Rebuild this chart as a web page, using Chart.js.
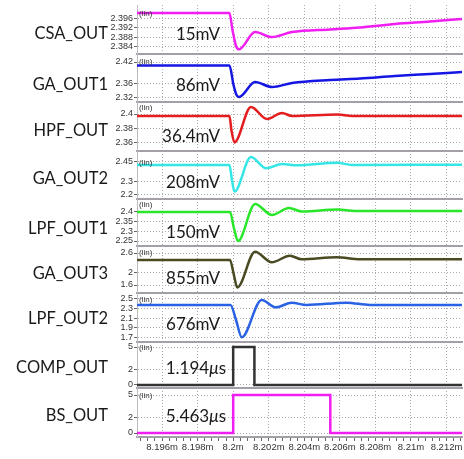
<!DOCTYPE html>
<html>
<head>
<meta charset="utf-8">
<script src="https://cdn.jsdelivr.net/npm/chart.js@4.4.1/dist/chart.umd.min.js"></script>
<style>
  html, body { margin: 0; padding: 0; background: #fff; }
  #wrap { position: relative; width: 464px; height: 459px; overflow: hidden; }
  .pane { position: absolute; left: 0; width: 464px; }
  .name, .note, .lin { position: absolute; white-space: nowrap; transform: translateY(-50%); z-index: 2; line-height: 1; }
  .name { right: 356px; font: 16.5px Lato, sans-serif; color: #1a1a1a; }
  .note { font: 17px Lato, sans-serif; color: #1a1a1a; }
  .lin { left: 139px; font: 8px "Liberation Sans", sans-serif; color: #333; }
</style>
</head>
<body>
<div id="wrap"></div>
<script>
// ── x axis (ms) ──
const xMin = 8.19459, xMax = 8.21287;
const xTicks  = [8.196, 8.198, 8.2, 8.202, 8.204, 8.206, 8.208, 8.21, 8.212];
const xLabels = ['8.196m', '8.198m', '8.2m', '8.202m', '8.204m', '8.206m', '8.208m', '8.21m', '8.212m'];

// ── signals: time (ms) / value ──
const csaT = [8.19459, 8.19979, 8.19996, 8.20016, 8.20033, 8.20123, 8.20218, 8.20331, 8.20544, 8.20713, 8.20910, 8.21107, 8.21287];
const csaV = [2.3983, 2.3983, 2.3912, 2.3844, 2.3830, 2.3903, 2.3882, 2.3903, 2.3914, 2.3922, 2.3937, 2.3947, 2.3958];

const ga1T = [8.19459, 8.19979, 8.20002, 8.20019, 8.20033, 8.20123, 8.20218, 8.20331, 8.20544, 8.20713, 8.20910, 8.21107, 8.21287];
const ga1V = [2.4103, 2.4103, 2.3561, 2.3283, 2.3230, 2.3644, 2.3505, 2.3616, 2.3700, 2.3741, 2.3811, 2.3866, 2.3922];

const hpfT = [8.19459, 8.19979, 8.19990, 8.20007, 8.20100, 8.20190, 8.20275, 8.20331, 8.20589, 8.20668, 8.21287];
const hpfV = [2.3972, 2.3972, 2.3779, 2.3608, 2.4097, 2.3931, 2.4014, 2.3972, 2.3993, 2.3972, 2.3972];

const ga2T = [8.19459, 8.19979, 8.19993, 8.20007, 8.20100, 8.20185, 8.20275, 8.20359, 8.20584, 8.20668, 8.21287];
const ga2V = [2.4266, 2.4266, 2.3096, 2.2190, 2.4890, 2.4009, 2.4344, 2.4243, 2.4438, 2.4266, 2.4290];

const lpf1T = [8.19459, 8.19982, 8.20004, 8.20027, 8.20123, 8.20218, 8.20314, 8.20387, 8.20589, 8.20685, 8.21287];
const lpf1V = [2.4000, 2.4000, 2.3173, 2.2500, 2.4414, 2.3845, 2.4207, 2.4026, 2.4129, 2.4052, 2.4052];

const ga3T = [8.19459, 8.19982, 8.20004, 8.20023, 8.20123, 8.20217, 8.20319, 8.20385, 8.20582, 8.20713, 8.21287];
const ga3V = [2.3813, 2.3813, 1.9125, 1.5250, 2.6406, 2.3094, 2.5156, 2.4031, 2.4656, 2.4031, 2.4031];

const lpf2T = [8.19459, 8.19985, 8.20016, 8.20048, 8.20160, 8.20241, 8.20329, 8.20413, 8.20638, 8.20769, 8.21287];
const lpf2V = [2.374, 2.374, 2.059, 1.698, 2.479, 2.3257, 2.4223, 2.374, 2.4223, 2.374, 2.374];

const compT = [8.19459, 8.2, 8.2, 8.201194, 8.201194, 8.21287];
const compV = [0, 0, 5, 5, 0, 0];

const bsT = [8.19459, 8.2, 8.2, 8.205463, 8.205463, 8.21287];
const bsV = [0, 0, 5, 5, 0, 0];

// ── y tick labels per panel ──
const csaTicks  = [2.396, 2.392, 2.388, 2.384];
const ga1Ticks  = [2.42, 2.36, 2.32];
const hpfTicks  = [2.4, 2.38, 2.36];
const ga2Ticks  = [2.45, 2.3, 2.2];
const lpf1Ticks = [2.4, 2.35, 2.3, 2.25];
const ga3Ticks  = [2.6, 2, 1.6];
const lpf2Ticks = [2.5, 2.3, 2.1, 1.9, 1.7];
const compTicks = [5, 2, 0];
const bsTicks   = [5, 2, 0];

// ── panel layout ──
const panels = [
  { name: 'CSA_OUT',  note: '15mV',   t: csaT,  v: csaV,  ticks: csaTicks,  color: '#f01ef0', min: 2.38105, max: 2.40168, top: 5,   bottom: 54,  nameY: 33,  noteY: 33,  noteR: 220, linY: 13 },
  { name: 'GA_OUT1',  note: '86mV',   t: ga1T,  v: ga1V,  ticks: ga1Ticks,  color: '#1616e4', min: 2.3088,  max: 2.44224, top: 54,  bottom: 102, nameY: 84,  noteY: 84,  noteR: 220, linY: 61 },
  { name: 'HPF_OUT',  note: '36.4mV', t: hpfT,  v: hpfV,  ticks: hpfTicks,  color: '#e41e1e', min: 2.34894, max: 2.41656, top: 102, bottom: 151, nameY: 130, noteY: 135, noteR: 220, linY: 107 },
  { name: 'GA_OUT2',  note: '208mV',  t: ga2T,  v: ga2V,  ticks: ga2Ticks,  color: '#36e6e6', min: 2.1614,  max: 2.5358,  top: 151, bottom: 199, nameY: 178, noteY: 181, noteR: 220, linY: 162 },
  { name: 'LPF_OUT1', note: '150mV',  t: lpf1T, v: lpf1V, ticks: lpf1Ticks, color: '#2ae62a', min: 2.2242,  max: 2.4672,  top: 199, bottom: 246, nameY: 228, noteY: 231, noteR: 220, linY: 204 },
  { name: 'GA_OUT3',  note: '855mV',  t: ga3T,  v: ga3V,  ticks: ga3Ticks,  color: '#4a4a22', min: 1.35,    max: 2.81875, top: 246, bottom: 293, nameY: 273, noteY: 277, noteR: 220, linY: 252 },
  { name: 'LPF_OUT2', note: '676mV',  t: lpf2T, v: lpf2V, ticks: lpf2Ticks, color: '#2a62e4', min: 1.597,   max: 2.626,   top: 293, bottom: 342, nameY: 318, noteY: 323, noteR: 220, linY: 299 },
  { name: 'COMP_OUT', note: '1.194<i>μ</i>s', t: compT, v: compV, ticks: compTicks, color: '#333333', min: -0.395, max: 5.658, top: 342, bottom: 388, nameY: 367, noteY: 367, noteR: 226, linY: 347, step: true },
  { name: 'BS_OUT',   note: '5.463<i>μ</i>s', t: bsT,   v: bsV,   ticks: bsTicks,   color: '#f01ef0', min: -0.526, max: 5.921, top: 388, bottom: 437, nameY: 415, noteY: 415, noteR: 226, linY: 395, step: true },
];

// minor x ticks: five per major division
const xMinor = [];
for (let k = -3; k <= 42; k++) xMinor.push(+(xTicks[0] + k * 0.0004).toFixed(5));
const majorIdx = v => xTicks.findIndex(m => Math.abs(m - v) < 1e-7);

const gridColor = '#ababab';
const tickFont = { family: "'Liberation Sans', sans-serif", size: 9 };

function xScale(showLabels, h) {
  return {
    type: 'linear', min: xMin, max: xMax,
    afterBuildTicks: s => { s.ticks = xMinor.map(value => ({ value })); },
    afterFit: s => { s.height = h; s.paddingLeft = 0; s.paddingRight = 0; },
    ticks: {
      display: showLabels, autoSkip: false, maxRotation: 0, padding: 1,
      font: { family: "'Liberation Sans', sans-serif", size: 9.5 }, color: '#333',
      callback: v => { const i = majorIdx(v); return i < 0 ? '' : xLabels[i]; }
    },
    grid: {
      drawTicks: showLabels, tickLength: 4, tickColor: '#666', lineWidth: 1,
      color: c => (c.tick && majorIdx(c.tick.value) >= 0) ? gridColor : 'rgba(0,0,0,0)'
    },
    border: { display: true, color: '#a49fa7', width: 2, dash: [1, 2] }
  };
}

const wrap = document.getElementById('wrap');

panels.forEach((p, i) => {
  const last = i === panels.length - 1;
  const h = last ? 459 - p.top : p.bottom - p.top + 1;
  const pane = document.createElement('div');
  pane.className = 'pane';
  pane.style.top = p.top + 'px';
  pane.style.height = h + 'px';
  const cv = document.createElement('canvas');
  pane.appendChild(cv);
  wrap.appendChild(pane);

  new Chart(cv, {
    type: 'line',
    data: {
      datasets: [{
        data: p.t.map((x, j) => ({ x, y: p.v[j] })),
        borderColor: p.color,
        borderWidth: 2.5,
        pointRadius: 0,
        fill: false,
        tension: p.step ? 0 : 0.4,
        cubicInterpolationMode: p.step ? 'default' : 'monotone',
      }]
    },
    options: {
      responsive: true,
      maintainAspectRatio: false,
      animation: false,
      events: [],
      layout: { padding: { left: 0, right: 2, top: 0, bottom: 0 } },
      plugins: { legend: { display: false }, tooltip: { enabled: false } },
      scales: {
        x: xScale(last, last ? 459 - p.bottom : 1),
        y: {
          min: p.min, max: p.max,
          afterBuildTicks: s => { s.ticks = p.ticks.map(value => ({ value })); },
          afterFit: s => { s.width = 137; s.paddingTop = 0; s.paddingBottom = 0; },
          ticks: { font: tickFont, color: '#333', padding: 1, autoSkip: false, callback: v => String(v) },
          grid: { color: gridColor, lineWidth: 1, tickLength: 3, tickColor: '#666' },
          border: { display: true, color: '#bdbdbd', width: 1, dash: [1, 2] }
        }
      }
    }
  });

  const name = document.createElement('div');
  name.className = 'name';
  name.style.top = p.nameY + 'px';
  name.textContent = p.name;
  wrap.appendChild(name);

  const note = document.createElement('div');
  note.className = 'note';
  note.style.top = p.noteY + 'px';
  note.style.right = (464 - p.noteR) + 'px';
  note.innerHTML = p.note;
  wrap.appendChild(note);

  const lin = document.createElement('div');
  lin.className = 'lin';
  lin.style.top = p.linY + 'px';
  lin.textContent = '(lin)';
  wrap.appendChild(lin);
});
</script>
</body>
</html>
